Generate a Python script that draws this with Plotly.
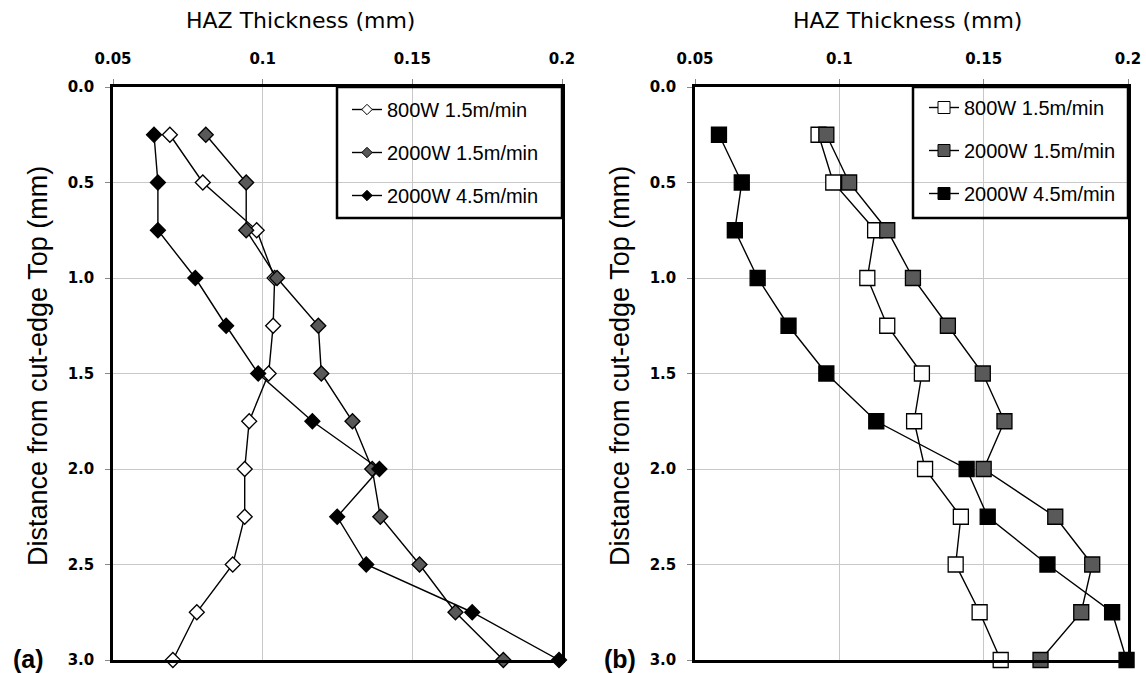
import plotly.graph_objects as go

# ---------------- data ----------------
depth = [0.25, 0.5, 0.75, 1.0, 1.25, 1.5, 1.75, 2.0, 2.25, 2.5, 2.75, 3.0]
series_names = ["800W 1.5m/min", "2000W 1.5m/min", "2000W 4.5m/min"]

# panel (a)
a_800w_15 = [0.069, 0.080, 0.098, 0.104, 0.1035, 0.102, 0.0955, 0.094, 0.094, 0.090, 0.078, 0.070]
a_2000w_15 = [0.081, 0.0945, 0.0945, 0.1048, 0.1186, 0.1196, 0.130, 0.1366, 0.1393, 0.1524, 0.1644, 0.1804]
a_2000w_45 = [0.0637, 0.065, 0.065, 0.0775, 0.0878, 0.0985, 0.1166, 0.139, 0.1249, 0.1346, 0.170, 0.199]

# panel (b)
b_800w_15 = [0.0928, 0.0979, 0.1124, 0.1097, 0.1166, 0.1286, 0.1259, 0.1297, 0.1421, 0.1403, 0.1486, 0.1559]
b_2000w_15 = [0.0955, 0.1034, 0.1166, 0.1255, 0.1376, 0.1497, 0.1572, 0.150, 0.1748, 0.1876, 0.1838, 0.1697]
b_2000w_45 = [0.0583, 0.0662, 0.0638, 0.0717, 0.0824, 0.0955, 0.1128, 0.1441, 0.1514, 0.1721, 0.1945, 0.1995]

x_ticks = [0.05, 0.1, 0.15, 0.2]
x_tick_text = ["0.05", "0.1", "0.15", "0.2"]
y_ticks = [0.0, 0.5, 1.0, 1.5, 2.0, 2.5, 3.0]
y_tick_text = ["0.0", "0.5", "1.0", "1.5", "2.0", "2.5", "3.0"]

x_title = "HAZ Thickness (mm)"
y_title = "Distance from cut-edge Top (mm)"
panel_labels = ["(a)", "(b)"]

# ---------------- styling ----------------
W, H = 1146, 673
fills = ["white", "#595959", "black"]

def px_x(p):
    return p / W

def px_y(p):
    return 1 - p / H

fig = go.Figure()

panels = [
    dict(xa="x", ya="y", legend="legend", symbol="diamond", size=11.5, lsize=8,
         data=[a_800w_15, a_2000w_15, a_2000w_45]),
    dict(xa="x2", ya="y2", legend="legend2", symbol="square", size=15, lsize=12,
         data=[b_800w_15, b_2000w_15, b_2000w_45]),
]

for pi, p in enumerate(panels):
    for si, vals in enumerate(p["data"]):
        fig.add_trace(go.Scatter(
            x=vals, y=depth, xaxis=p["xa"], yaxis=p["ya"],
            mode="lines+markers",
            line=dict(color="black", width=1.4),
            marker=dict(symbol=p["symbol"], size=p["size"], color=fills[si],
                        line=dict(color="black", width=1.3)),
            cliponaxis=False, showlegend=False, name=series_names[si],
        ))
    # legend entries
    for si, name in enumerate(series_names):
        fig.add_trace(go.Scatter(
            x=[None], y=[None], xaxis=p["xa"], yaxis=p["ya"],
            mode="lines+markers", name=name, legend=p["legend"],
            legendgroup=f"g{pi}{si}",
            line=dict(color="black", width=1.4),
            marker=dict(symbol=p["symbol"], size=p["lsize"], color=fills[si],
                        line=dict(color="black", width=1)),
        ))

# plot-area pixel boxes
boxes = [(113, 562, 87, 660), (695, 1128, 87, 660)]
axis_common = dict(showline=True, linecolor="black", linewidth=2.5, mirror=True,
                   showgrid=True, gridcolor="#c8c8c8", gridwidth=1,
                   zeroline=False, ticks="outside", ticklen=5, tickcolor="#888",
                   automargin=False)

for i, (x0, x1, y0, y1) in enumerate(boxes):
    sfx = "" if i == 0 else str(i + 1)
    fig.update_layout(**{
        f"xaxis{sfx}": dict(
            domain=[px_x(x0), px_x(x1)], anchor=f"y{sfx}", side="top",
            range=[0.05, 0.2], tickvals=x_ticks, ticktext=x_tick_text,
            tickfont=dict(family="DejaVu Sans", size=15, color="black", weight="bold"),
            ticklabelstandoff=9, **axis_common),
        f"yaxis{sfx}": dict(
            domain=[px_y(y1), px_y(y0)], anchor=f"x{sfx}",
            range=[3.0, 0.0], tickvals=y_ticks, ticktext=y_tick_text,
            tickfont=dict(family="DejaVu Sans", size=15, color="black", weight="bold"),
            ticklabelstandoff=8, **axis_common),
    })

# legends
legend_common = dict(bgcolor="rgba(0,0,0,0)", borderwidth=0, xanchor="left", yanchor="top",
                     font=dict(family="Liberation Sans", size=20, color="black"),
                     tracegroupgap=14, itemclick=False)
fig.update_layout(
    legend=dict(x=px_x(347), y=px_y(90), **legend_common),
    legend2=dict(x=px_x(924), y=px_y(88), **legend_common),
)

shapes = []
for (lx0, lx1, ly0, ly1) in [(337, 562, 87, 218), (913, 1128, 87, 218)]:
    shapes.append(dict(type="rect", xref="paper", yref="paper",
                       x0=px_x(lx0), x1=px_x(lx1), y0=px_y(ly1), y1=px_y(ly0),
                       line=dict(color="black", width=2.5), fillcolor="rgba(0,0,0,0)"))

annotations = []
for cx in [300, 907]:
    annotations.append(dict(text=x_title, xref="paper", yref="paper", x=px_x(cx), y=px_y(20),
                            xanchor="center", yanchor="middle", showarrow=False,
                            font=dict(family="DejaVu Sans", size=22, color="black")))
for cx in [38, 620]:
    annotations.append(dict(text=y_title, xref="paper", yref="paper", x=px_x(cx), y=px_y(366),
                            xanchor="center", yanchor="middle", showarrow=False, textangle=-90,
                            font=dict(family="Liberation Sans", size=27, color="black")))
for lab, cx in zip(panel_labels, [28, 620]):
    annotations.append(dict(text=f"<b>{lab}</b>", xref="paper", yref="paper", x=px_x(cx), y=px_y(659),
                            xanchor="center", yanchor="middle", showarrow=False,
                            font=dict(family="Liberation Sans", size=25, color="black")))

fig.update_layout(
    width=W, height=H, margin=dict(l=0, r=0, t=0, b=0),
    paper_bgcolor="white", plot_bgcolor="white",
    shapes=shapes, annotations=annotations,
)

fig.write_html("out.html")
